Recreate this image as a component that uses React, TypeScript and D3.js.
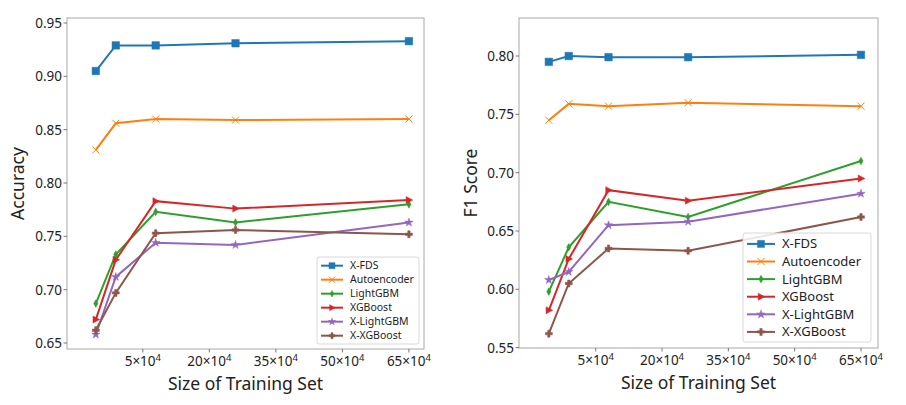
import React from "react";
import * as d3 from "d3";

const seriesNames = ["X-FDS", "Autoencoder", "LightGBM", "XGBoost", "X-LightGBM", "X-XGBoost"];
const seriesColors = ["#1f77b4", "#ff7f0e", "#2ca02c", "#d62728", "#9467bd", "#8c564b"];
const seriesMarkers = ["square", "x", "diamond", "triRight", "star", "plus"];

// x positions in tick units (×10^4) as plotted
const trainingPositions = [-5.6, -1.1, 7.9, 25.9, 65];
const xTickValues = [5, 20, 35, 50, 65];
const xTickBase = ["5", "20", "35", "50", "65"];

const accXFDS = [0.905, 0.929, 0.929, 0.931, 0.933];
const accAutoencoder = [0.831, 0.856, 0.860, 0.859, 0.860];
const accLightGBM = [0.687, 0.733, 0.773, 0.763, 0.780];
const accXGBoost = [0.672, 0.728, 0.783, 0.776, 0.784];
const accXLightGBM = [0.658, 0.712, 0.744, 0.742, 0.763];
const accXXGBoost = [0.662, 0.697, 0.753, 0.756, 0.752];
const accTicks = [0.65, 0.7, 0.75, 0.8, 0.85, 0.9, 0.95];

const f1XFDS = [0.795, 0.800, 0.799, 0.799, 0.801];
const f1Autoencoder = [0.745, 0.759, 0.757, 0.760, 0.757];
const f1LightGBM = [0.598, 0.636, 0.675, 0.662, 0.710];
const f1XGBoost = [0.582, 0.626, 0.685, 0.676, 0.695];
const f1XLightGBM = [0.608, 0.615, 0.655, 0.658, 0.682];
const f1XXGBoost = [0.562, 0.605, 0.635, 0.633, 0.662];
const f1Ticks = [0.55, 0.6, 0.65, 0.7, 0.75, 0.8];

const FONT = "'Noto Sans', 'DejaVu Sans', sans-serif";

function markerPath(kind: string, s: number): string {
  switch (kind) {
    case "square":
      return d3.symbol(d3.symbolSquare, s * s)()!;
    case "x":
      return `M${-s / 2},${-s / 2}L${s / 2},${s / 2}M${-s / 2},${s / 2}L${s / 2},${-s / 2}`;
    case "diamond":
      return `M0,${-s * 0.55}L${s * 0.3},0L0,${s * 0.55}L${-s * 0.3},0Z`;
    case "triRight":
      return `M${s * 0.55},0L${-s * 0.4},${-s * 0.5}L${-s * 0.4},${s * 0.5}Z`;
    case "star":
      return d3.symbol(d3.symbolStar, s * s * 0.45)()!;
    case "plus": {
      const a = s * 0.5, b = s * 0.17;
      return `M${-b},${-a}H${b}V${-b}H${a}V${b}H${b}V${a}H${-b}V${b}H${-a}V${-b}H${-b}Z`;
    }
  }
  return "";
}

function Marker({ kind, color, x, y, size }: { kind: string; color: string; x: number; y: number; size: number }) {
  const d = markerPath(kind, size);
  if (kind === "x") {
    return <path d={d} transform={`translate(${x},${y})`} stroke={color} strokeWidth={1} fill="none" />;
  }
  return <path d={d} transform={`translate(${x},${y})`} fill={color} stroke={color} strokeWidth={0.5} />;
}

type PanelProps = {
  left: number;
  right: number;
  top: number;
  bottom: number;
  xDomain: [number, number];
  yDomain: [number, number];
  yTicks: number[];
  series: number[][];
  yLabel: string;
  yLabelX: number;
  legend: { x: number; y: number; w: number; h: number; step: number; font: number; lineLen: number; marker: number };
};

function Panel(p: PanelProps) {
  const x = d3.scaleLinear().domain(p.xDomain).range([p.left, p.right]);
  const y = d3.scaleLinear().domain(p.yDomain).range([p.bottom, p.top]);
  const line = d3
    .line<number>()
    .x((_, i) => x(trainingPositions[i]))
    .y((d) => y(d));
  const spine = "#a8a8a8";
  const lg = p.legend;
  return (
    <g>
      {p.series.map((vals, si) => (
        <g key={si}>
          <path d={line(vals)!} fill="none" stroke={seriesColors[si]} strokeWidth={2} />
          {vals.map((v, i) => (
            <Marker key={i} kind={seriesMarkers[si]} color={seriesColors[si]} x={x(trainingPositions[i])} y={y(v)} size={si === 0 ? 7.5 : 7} />
          ))}
        </g>
      ))}
      <rect x={p.left} y={p.top} width={p.right - p.left} height={p.bottom - p.top} fill="none" stroke={spine} strokeWidth={1} />
      {p.yTicks.map((t) => (
        <g key={t}>
          <line x1={p.left - 3.5} x2={p.left} y1={y(t)} y2={y(t)} stroke="#555" strokeWidth={0.8} />
          <text x={p.left - 5} y={y(t)} dy="0.36em" textAnchor="end" fontSize={13.5} fill="#222">
            {t.toFixed(2)}
          </text>
        </g>
      ))}
      {xTickValues.map((t, i) => (
        <g key={t}>
          <line x1={x(t)} x2={x(t)} y1={p.bottom} y2={p.bottom + 3.5} stroke="#555" strokeWidth={0.8} />
          <text x={x(t)} y={p.bottom + 17} textAnchor="middle" fontSize={13.5} fill="#222">
            {xTickBase[i]}×10<tspan fontSize={9.5} dy={-5}>4</tspan>
          </text>
        </g>
      ))}
      <text x={(p.left + p.right) / 2} y={p.bottom + 41} textAnchor="middle" fontSize={17.5} fill="#222">
        Size of Training Set
      </text>
      <text transform={`translate(${p.yLabelX},${(p.top + p.bottom) / 2}) rotate(-90)`} textAnchor="middle" fontSize={17.5} fill="#222">
        {p.yLabel}
      </text>
      <rect x={lg.x} y={lg.y} width={lg.w} height={lg.h} rx={2.5} fill="white" fillOpacity={0.85} stroke="#d8d8d8" strokeWidth={1} />
      {seriesNames.map((n, si) => {
        const cy = lg.y + lg.step * 0.62 + si * lg.step;
        const lx = lg.x + 4;
        return (
          <g key={n}>
            <line x1={lx} x2={lx + lg.lineLen} y1={cy} y2={cy} stroke={seriesColors[si]} strokeWidth={2} />
            <Marker kind={seriesMarkers[si]} color={seriesColors[si]} x={lx + lg.lineLen / 2} y={cy} size={lg.marker} />
            <text x={lx + lg.lineLen + 7} y={cy} dy="0.35em" fontSize={lg.font} fill="#222">
              {n}
            </text>
          </g>
        );
      })}
    </g>
  );
}

export default function App() {
  return (
    <svg width={906} height={405} style={{ position: "absolute", left: 0, top: 0, fontFamily: FONT }}>
      <rect width={906} height={405} fill="white" />
      <Panel
        left={67}
        right={424}
        top={18}
        bottom={349}
        xDomain={[-12.1, 68.4]}
        yDomain={[0.6444, 0.9547]}
        yTicks={accTicks}
        series={[accXFDS, accAutoencoder, accLightGBM, accXGBoost, accXLightGBM, accXXGBoost]}
        yLabel="Accuracy"
        yLabelX={24}
        legend={{ x: 317, y: 257, w: 102, h: 87, step: 14, font: 10.5, lineLen: 22, marker: 6 }}
      />
      <Panel
        left={519}
        right={878}
        top={18}
        bottom={348}
        xDomain={[-12.35, 68.85]}
        yDomain={[0.5497, 0.8326]}
        yTicks={f1Ticks}
        series={[f1XFDS, f1Autoencoder, f1LightGBM, f1XGBoost, f1XLightGBM, f1XXGBoost]}
        yLabel="F1 Score"
        yLabelX={477}
        legend={{ x: 743, y: 233, w: 128, h: 109, step: 17.6, font: 13, lineLen: 28, marker: 7 }}
      />
    </svg>
  );
}
